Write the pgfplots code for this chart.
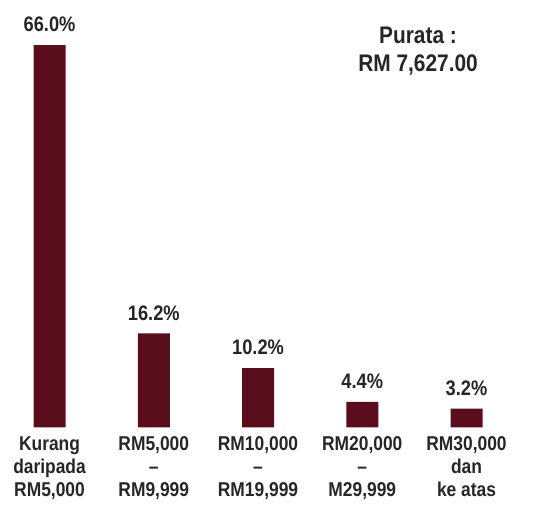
\documentclass[border=0pt]{standalone}
\usepackage{fontspec}
\usepackage{pgfplots}
\pgfplotsset{compat=1.18}
\setmainfont{Liberation Sans}
\newfontfamily\narrowfont[FakeStretch=0.87]{Liberation Sans}
\definecolor{maroon}{RGB}{90,13,27}

\begin{document}
\begin{tikzpicture}
\begin{axis}[
    scale only axis,
    width=552bp, height=423bp,
    xmin=-0.475, xmax=4.82,
    ymin=0, ymax=73.05,
    ybar, bar width=32bp,
    axis line style={draw=none},
    tick style={draw=none},
    ytick=\empty,
    xtick=data,
    xticklabels={{Kurang\\daripada\\RM5,000},{RM5,000\\–\\RM9,999},{RM10,000\\–\\RM19,999},{RM20,000\\–\\M29,999},{RM30,000\\dan\\ke atas}},
    xticklabel style={align=center, inner sep=0pt, yshift=-5bp,
        font=\narrowfont\bfseries\fontsize{20bp}{23bp}\selectfont, text=black!85},
    /pgf/number format/assume math mode=true,
    nodes near coords={\pgfmathprintnumber[fixed,fixed zerofill,precision=1,assume math mode=true]{\pgfplotspointmeta}\%},
    nodes near coords style={inner sep=0pt, yshift=13bp, text=black!85,
        font=\narrowfont\bfseries\fontsize{21bp}{23bp}\selectfont},
    clip=false,
]
\addplot[fill=maroon, draw=none] coordinates {(0,66.0) (1,16.2) (2,10.2) (3,4.4) (4,3.2)};
\node[align=center, text=black!85, font=\narrowfont\bfseries\fontsize{24bp}{28bp}\selectfont]
    at (axis cs:3.535,65.0) {Purata :\\RM 7,627.00};
\path (rel axis cs:0,0) ++(0pt,-84bp);
\end{axis}
\end{tikzpicture}
\end{document}
